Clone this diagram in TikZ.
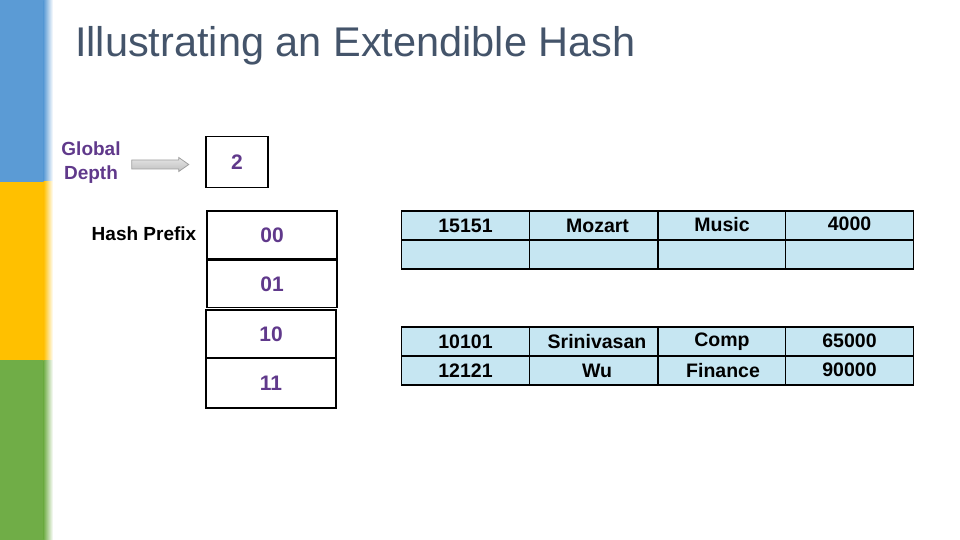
\documentclass[tikz,border=0pt]{standalone}
\usepackage{fontspec}
\setmainfont{Liberation Sans}
\usetikzlibrary{positioning,calc}

\definecolor{barblue}{RGB}{91,155,213}
\definecolor{baryellow}{RGB}{255,192,0}
\definecolor{bargreen}{RGB}{112,173,71}
\definecolor{titlegray}{RGB}{68,84,106}
\definecolor{depthpurple}{RGB}{96,57,139}
\definecolor{cellblue}{RGB}{198,230,242}

\begin{document}
\begin{tikzpicture}[x=1pt,y=-1pt,
  dirbox/.style={draw=black,line width=1.5pt,minimum width=130pt,minimum height=48pt,
    font=\fontsize{21}{21}\selectfont\bfseries,text=depthpurple,inner sep=0pt},
  cell/.style={draw=black,line width=1.5pt,fill=cellblue,minimum width=128pt,minimum height=29pt,
    font=\fontsize{19.5}{19.5}\selectfont\bfseries,inner sep=0pt},
  lbl/.style={font=\fontsize{19}{24}\selectfont\bfseries,align=center,inner sep=0pt}]
\useasboundingbox (0,0) rectangle (960,540);
% side bars
\fill[barblue] (0,0) rectangle (44,182);
\fill[baryellow] (0,182) rectangle (44,360);
\fill[bargreen] (0,360) rectangle (44,540);
\shade[left color=barblue,right color=white] (43.5,0) rectangle (53,182);
\shade[left color=baryellow,right color=white] (43.5,182) rectangle (53,360);
\shade[left color=bargreen,right color=white] (43.5,360) rectangle (53,540);
% title
\node[anchor=west,text=titlegray,font=\fontsize{41.5}{41.5}\selectfont,inner sep=0pt] (title) at (75,46) {Illustrating an Extendible Hash};
% global depth
\node[lbl,text=depthpurple] (gd) at (91,163) {Global\\Depth};
\node[draw=black,line width=1.5pt,minimum width=62pt,minimum height=51pt,
  font=\fontsize{21}{21}\selectfont\bfseries,text=depthpurple,inner sep=0pt] (depth) at (237,162) {2};
% block arrow between them
\coordinate (arrtail) at ($(gd.east)+(11,1.5)$);
\draw[draw=gray!75,line width=0.8pt,top color=gray!20,bottom color=gray!50]
  (arrtail) ++(0,-4.5) -- ++(47,0) -- ++(0,-2.5) -- ++(10,7) -- ++(-10,7)
  -- ++(0,-2.5) -- ++(-47,0) -- cycle;
% directory
\node[lbl] (hp) at (144,234) {Hash Prefix};
\node[dirbox] (d00) at (272,235) {00};
\node[dirbox,minimum height=47pt] (d01) at (272,284) {01};
\node[dirbox] (d10) at (271,334) {10};
\node[dirbox,minimum height=50pt] (d11) at (271,383) {11};
% bucket one
\foreach \n/\x/\t in {a/465.5/15151,b/593.5/\hspace{8pt}Mozart,c/722/\raisebox{3pt}{Music},d/849.5/\raisebox{3pt}{4000}}{
  \node[cell] (b1\n) at (\x,225.5) {\t};
  \node[cell] (b1\n2) at (\x,254.5) {};
}
% bucket two
\foreach \n/\x/\t/\u in {a/465.5/10101/12121,b/593.5/\hspace{7pt}Srinivasan/\hspace{7pt}Wu,
  c/722/Comp\hspace{14pt}/\hspace{2pt}Finance,d/849.5/\raisebox{2pt}{65000}/\raisebox{2pt}{90000}}{
  \node[cell] (b2\n) at (\x,341.5) {\t};
  \node[cell] (b2\n2) at (\x,370.5) {\u};
}
\end{tikzpicture}
\end{document}
